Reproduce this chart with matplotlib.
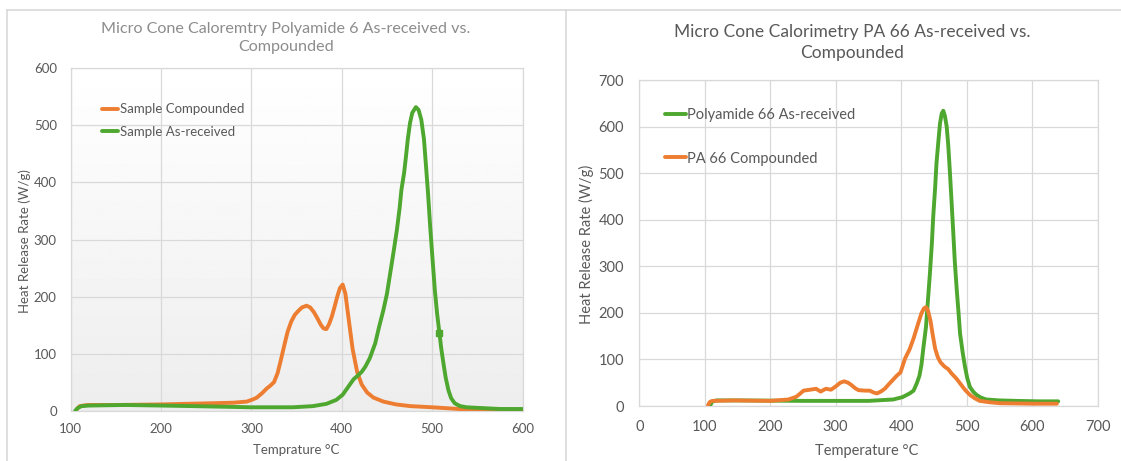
import matplotlib
matplotlib.use("Agg")
import matplotlib.pyplot as plt
import numpy as np
from matplotlib.lines import Line2D

plt.rcParams['font.family'] = ['Lato', 'DejaVu Sans']

# ---------------- Data ----------------
# Left chart: Polyamide 6
pa6_comp_T = [107, 110, 118, 150, 200, 254, 280, 295, 302, 306, 312, 317, 321, 325, 329, 332, 336,
              340, 344, 348, 352, 356, 361, 365, 369, 373, 377, 380, 383, 386, 389, 392, 395, 398,
              401, 404, 408, 412, 417, 422, 428, 435, 446, 460, 476, 500, 520, 540, 570, 600]
pa6_comp_v = [3, 8, 10, 10, 11, 13, 14, 16, 20, 23, 31, 39, 44, 50, 66, 85, 112,
              138, 156, 168, 175, 181, 184, 181, 173, 162, 150, 144, 143, 152, 165, 182, 200, 215,
              221, 205, 156, 108, 68, 46, 32, 23, 16, 11, 8, 6, 4, 2, 1, 1]

pa6_asr_T = [105, 108, 112, 120, 160, 200, 236, 300, 346, 368, 383, 394, 401, 405, 409, 413, 418,
             422, 426, 431, 437, 441, 446, 450, 453, 457, 461, 464, 466, 469, 471, 473, 475.5, 478,
             482, 485, 488, 491, 493, 495.5, 497.6, 500, 503, 505.5, 508, 510, 512.5, 515, 518, 521,
             525, 531, 538, 550, 575, 600]
pa6_asr_v = [0, 5, 8, 9, 10, 9, 8, 6, 6, 8, 12, 19, 28, 37, 46, 55, 62,
             68, 77, 92, 118, 145, 176, 205, 235, 275, 317, 355, 387, 417, 445, 475, 504, 522,
             532, 527, 510, 475, 433, 380, 328, 275, 211, 170, 137, 110, 83, 58, 36, 22,
             13, 8, 6, 5, 3, 3]
pa6_marker_T = 508

# Right chart: Polyamide 66
pa66_asr_T = [108, 111, 118, 150, 250, 300, 350, 388, 402, 413, 419, 424, 428, 431, 434, 438, 441,
              444, 447, 449, 452, 454, 457, 459.4, 462, 464.4, 467, 469.6, 472, 474.6, 477, 479.7,
              482, 485, 488, 490, 494, 497.6, 501, 505, 510, 515, 522, 530, 550, 576, 610, 640]
pa66_asr_v = [0, 9, 12, 12, 11, 11, 11, 14, 19, 27, 33, 49, 65, 88, 125, 170, 228,
              285, 350, 406, 470, 521, 570, 607, 628, 634, 622, 600, 560, 500, 440, 371,
              310, 249, 195, 156, 115, 84, 60, 41, 31, 24, 18, 14, 12, 11, 10, 10]

pa66_comp_T = [105, 108, 112, 144, 200, 228, 240, 246, 251, 261, 270, 277, 285, 293, 301, 307, 313,
               319, 324, 330, 335, 345, 352, 358, 363, 369, 375, 382, 388, 394, 399, 406, 413, 419,
               424, 431, 435, 438, 441, 445, 448, 452, 456, 460, 466, 472, 477, 485, 492, 498, 505,
               512, 520, 535, 551, 600, 638]
pa66_comp_v = [2, 9, 11, 12, 11, 14, 20, 27, 33, 35, 37, 31, 37, 35, 43, 50, 53,
               50, 45, 38, 34, 33, 33, 29, 27, 31, 37, 48, 57, 66, 72, 102, 122, 145,
               168, 199, 210, 212, 205, 182, 155, 123, 105, 94, 85, 79, 70, 58, 45, 34, 24,
               17, 11, 8, 6, 5, 5]

left_title = "Micro Cone Caloremtry Polyamide 6 As-received vs.\nCompounded"
right_title = "Micro Cone Calorimetry PA 66 As-received vs.\nCompounded"
left_xlabel = "Temprature °C"
right_xlabel = "Temperature °C"
ylabel = "Heat Release Rate (W/g)"
left_labels = ["Sample Compounded", "Sample As-received"]
right_labels = ["Polyamide 66 As-received", "PA 66 Compounded"]
left_xticks = [100, 200, 300, 400, 500, 600]
left_yticks = [0, 100, 200, 300, 400, 500, 600]
right_xticks = [0, 100, 200, 300, 400, 500, 600, 700]
right_yticks = [0, 100, 200, 300, 400, 500, 600, 700]

# ---------------- Style ----------------
ORANGE = '#ED7D31'
GREEN = '#4EA72E'
GRID = '#d9d9d9'
TICKC = '#595959'
W, H = 1121, 461
LW = 2.8

fig = plt.figure(figsize=(W / 100, H / 100), dpi=100)
fig.patch.set_facecolor('white')

def px_rect(l, t, r, b):
    return [l / W, 1 - b / H, (r - l) / W, (b - t) / H]

# outer panel frames
for (x0, y0, x1, y1) in [(7, 10, W, 10), (7, 10, 7, H), (566, 10, 566, H)]:
    fig.add_artist(Line2D([x0 / W, x1 / W], [1 - y0 / H, 1 - y1 / H],
                          color=GRID, lw=1.2, transform=fig.transFigure))

axL = fig.add_axes(px_rect(70.7, 68.3, 522.5, 410.7))
axR = fig.add_axes(px_rect(639.3, 80, 1097.5, 406))

def style(ax, xticks, yticks, fs):
    ax.set_xticks(xticks)
    ax.set_yticks(yticks)
    ax.set_xlim(xticks[0], xticks[-1])
    ax.set_ylim(yticks[0], yticks[-1])
    ax.grid(True, color=GRID, lw=0.9)
    ax.set_axisbelow(True)
    for s in ax.spines.values():
        s.set_color(GRID)
        s.set_linewidth(0.9)
    ax.tick_params(length=0, labelsize=fs, labelcolor=TICKC)

# gradient background for left plot area
grad = np.linspace(0.93, 1.0, 256).reshape(-1, 1)
axL.imshow(grad, extent=[0, 1, 0, 1], transform=axL.transAxes, cmap='gray',
           vmin=0, vmax=1, aspect='auto', zorder=0, origin='lower')

style(axL, left_xticks, left_yticks, 9.5)
axL.tick_params(axis='y', pad=10)
axL.tick_params(axis='x', pad=9)
mi = pa6_asr_T.index(pa6_marker_T)
axL.plot(pa6_comp_T, pa6_comp_v, color=ORANGE, lw=LW, solid_capstyle='round',
         label=left_labels[0], zorder=3)
axL.plot(pa6_asr_T, pa6_asr_v, color=GREEN, lw=LW, solid_capstyle='round',
         label=left_labels[1], zorder=4)
axL.plot([pa6_asr_T[mi]], [pa6_asr_v[mi]], ls='none', marker='s', markersize=4.5,
         color=GREEN, zorder=5)
axL.set_xlabel(left_xlabel, fontsize=9.5, color=TICKC)
axL.set_ylabel(ylabel, fontsize=9.5, color=TICKC)
axL.xaxis.set_label_coords(0.4987, -0.097)
axL.yaxis.set_label_coords(-0.088, 0.496)
legL = axL.legend(loc='upper left', bbox_to_anchor=(0.07, 0.898), frameon=False,
                  fontsize=9.5, handlelength=1.2, handletextpad=0.15, labelspacing=0.78,
                  borderpad=0, borderaxespad=0)
for t in legL.get_texts():
    t.set_color(TICKC)

style(axR, right_xticks, right_yticks, 10.5)
axR.tick_params(axis='y', pad=11)
axR.tick_params(axis='x', pad=10)
axR.plot(pa66_asr_T, pa66_asr_v, color=GREEN, lw=LW, solid_capstyle='round',
         label=right_labels[0], zorder=3)
axR.plot(pa66_comp_T, pa66_comp_v, color=ORANGE, lw=LW, solid_capstyle='round',
         label=right_labels[1], zorder=4)
axR.set_xlabel(right_xlabel, fontsize=10.5, color=TICKC)
axR.set_ylabel(ylabel, fontsize=10.5, color=TICKC)
axR.xaxis.set_label_coords(0.497, -0.117)
axR.yaxis.set_label_coords(-0.099, 0.497)
legR = axR.legend(loc='upper left', bbox_to_anchor=(0.055, 0.913), frameon=False,
                  fontsize=10.5, handlelength=1.45, handletextpad=0.1, labelspacing=2.0,
                  borderpad=0, borderaxespad=0)
for t in legR.get_texts():
    t.set_color(TICKC)

fig.text(286 / W, 1 - 38 / H, left_title, ha='center', va='center', fontsize=11.6,
         color='#8c8c8c', linespacing=1.4)
fig.text(852 / W, 1 - 42.4 / H, right_title, ha='center', va='center', fontsize=12.5,
         color='#595959', linespacing=1.4)

fig.savefig('out.png', dpi=100, facecolor='white')
